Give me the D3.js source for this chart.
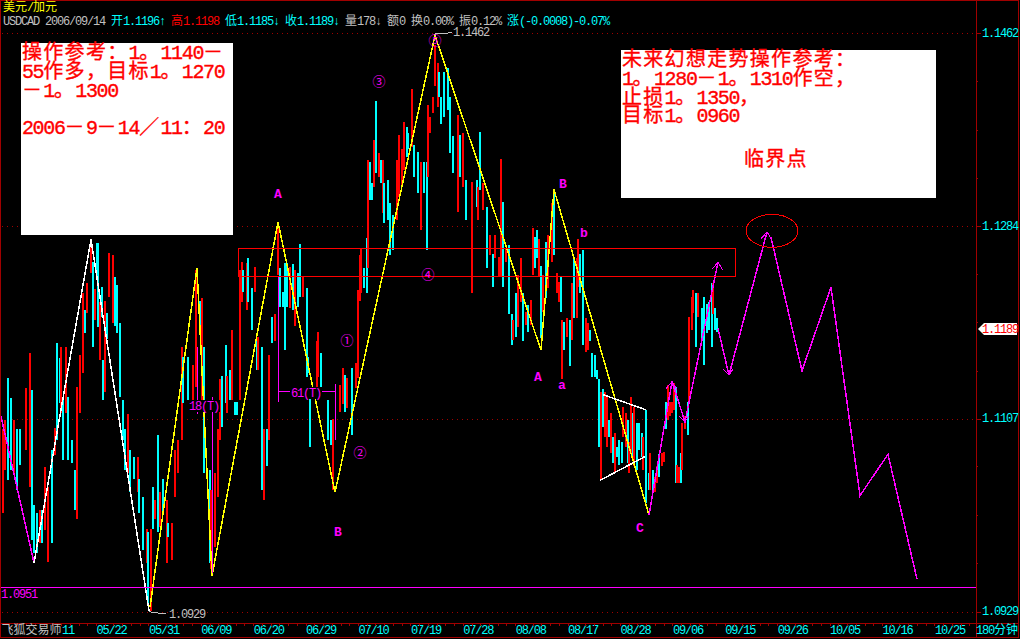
<!DOCTYPE html>
<html><head><meta charset="utf-8">
<style>html,body{margin:0;padding:0;background:#000;overflow:hidden}svg{display:block}
text{font-family:"Liberation Mono","Noto Sans CJK SC",monospace;white-space:pre}</style>
<script src="https://cdn.jsdelivr.net/npm/d3@7"></script></head><body><script>
// 180-minute bars of USD/CAD: position in the series, high, low, closed up (1) or down (0)
const barIndex=[3,5,8,11,14,17,20,26,30,32,
34,37,40,42,45,48,52,55,57,60,
61,63,66,68,72,75,77,80,83,85,
87,91,93,95,97,98,100,102,103,105,
107,109,113,115,117,120,123,125,128,130,
134,138,139,143,147,148,151,153,155,158,
160,163,167,168,172,175,178,182,183,188,
193,196,200,202,204,210,211,215,218,220,
222,226,227,230,232,235,237,240,242,243,
247,248,252,255,257,258,262,264,267,269,
272,275,278,280,283,285,287,290,293,295,
298,300,303,307,308,310,317,318,321,328,
331,333,340,343,345,347,352,356,358,360,
361,364,367,368,370,372,374,376,379,381,
383,384,388,390,393,397,399,402,404,407,
408,412,414,418,421,424,427,428,430,433,
435,438,439,441,444,448,450,453,458,460,
463,466,472,477,478,480,483,487,490,493,
495,499,501,503,506,509,512,513,516,518,
521,523,526,528,531,533,535,537,539,541,
543,546,548,552,554,557,559,561,562,564,
567,570,572,574,577,578,580,583,586,588,
590,592,595,597,599,601,603,605,607,609,
611,613,615,617,619,622,623,626,628,629,
631,633,634,637,639,642,643,646,649,650,
653,655,657,659,662,664,666,668,670,672,
674,676,677,679,681,682,685,688,689,692,
693,696,698,702,704,707,709,712,713,715,
717];
const highs=[1.1097,1.1106,1.1144,1.1126,1.1106,1.1097,1.1097,1.1135,1.1167,1.1133,
1.1027,1.1020,1.1023,1.1023,1.1062,1.1044,1.1078,1.1098,1.1177,1.1163,
1.1173,1.1127,1.1173,1.1127,1.1087,1.1060,1.1136,1.1166,1.1223,1.1207,
1.1232,1.1272,1.1251,1.1226,1.1269,1.1269,1.1214,1.1228,1.1161,1.1215,
1.1204,1.1260,1.1258,1.1237,1.1230,1.1195,1.1124,1.1097,1.1111,1.1078,
1.1072,1.1072,1.1051,1.1035,1.1005,1.1002,1.1005,1.1044,1.1032,1.1092,
1.1039,1.1051,1.1032,1.1011,1.1011,1.1078,1.1087,1.1173,1.1164,1.1164,
1.1156,1.1244,1.1215,1.1218,1.1173,1.1060,1.1041,1.1057,1.1097,1.1143,
1.1146,1.1175,1.1146,1.1152,1.1189,1.1122,1.1122,1.1244,1.1251,1.1244,
1.1250,1.1255,1.1227,1.1247,1.1182,1.1182,1.1173,1.1097,1.1097,1.1166,
1.1201,1.1203,1.1288,1.1246,1.1224,1.1250,1.1250,1.1247,1.1249,1.1244,
1.1241,1.1268,1.1238,1.1227,1.1164,1.1127,1.1178,1.1187,1.1167,1.1124,
1.1106,1.1107,1.1138,1.1154,1.1147,1.1144,1.1154,1.1158,1.1225,1.1258,
1.1264,1.1246,1.1273,1.1345,1.1343,1.1324,1.1364,1.1400,1.1352,1.1345,
1.1345,1.1324,1.1327,1.1306,1.1295,1.1345,1.1368,1.1355,1.1380,1.1376,
1.1370,1.1411,1.1359,1.1353,1.1343,1.1343,1.1343,1.1396,1.1385,1.1403,
1.1451,1.1435,1.1426,1.1403,1.1426,1.1430,1.1403,1.1367,1.1387,1.1368,
1.1370,1.1327,1.1325,1.1327,1.1320,1.1371,1.1324,1.1302,1.1276,1.1259,
1.1276,1.1256,1.1346,1.1307,1.1264,1.1267,1.1203,1.1198,1.1223,1.1239,
1.1255,1.1223,1.1205,1.1212,1.1216,1.1283,1.1274,1.1281,1.1272,1.1248,
1.1239,1.1270,1.1276,1.1306,1.1315,1.1241,1.1233,1.1238,1.1198,1.1196,
1.1200,1.1198,1.1232,1.1255,1.1255,1.1272,1.1259,1.1262,1.1200,1.1195,
1.1189,1.1167,1.1166,1.1152,1.1143,1.1131,1.1134,1.1131,1.1127,1.1106,
1.1112,1.1090,1.1094,1.1081,1.1087,1.1085,1.1118,1.1112,1.1106,1.1085,
1.1127,1.1112,1.1118,1.1103,1.1103,1.1094,1.1090,1.1115,1.1057,1.1075,
1.1060,1.1053,1.1063,1.1074,1.1075,1.1076,1.1122,1.1138,1.1122,1.1122,
1.1140,1.1136,1.1064,1.1062,1.1075,1.1103,1.1109,1.1122,1.1201,1.1219,
1.1225,1.1223,1.1223,1.1209,1.1219,1.1213,1.1214,1.1232,1.1232,1.1209,
1.1200];
const lows=[1.1020,1.1060,1.1050,1.1060,1.1057,1.1041,1.1064,1.1078,1.1044,1.0995,
1.0983,1.0983,1.0992,1.0992,1.1004,1.0975,1.0992,1.1073,1.1087,1.1121,
1.1112,1.1069,1.1112,1.1069,1.1066,1.1023,1.1014,1.1112,1.1149,1.1186,
1.1204,1.1241,1.1173,1.1198,1.1241,1.1191,1.1161,1.1201,1.1124,1.1131,
1.1180,1.1219,1.1195,1.1192,1.1186,1.1127,1.1087,1.1060,1.1057,1.1039,
1.1051,1.1039,1.1020,1.0986,1.0974,1.0937,1.0930,1.1005,1.1014,1.1002,
1.1007,1.1020,1.0974,1.0998,1.0977,1.1035,1.1057,1.1087,1.1121,1.1124,
1.1124,1.1136,1.1189,1.1115,1.1057,1.0974,1.0968,1.0989,1.1035,1.1087,
1.1099,1.1121,1.1112,1.1124,1.1124,1.1110,1.1110,1.1124,1.1214,1.1224,
1.1207,1.1214,1.1189,1.1224,1.1152,1.1152,1.1041,1.1032,1.1063,1.1087,
1.1177,1.1178,1.1239,1.1210,1.1210,1.1170,1.1210,1.1209,1.1207,1.1192,
1.1210,1.1219,1.1219,1.1145,1.1149,1.1081,1.1127,1.1145,1.1133,1.1087,
1.1083,1.1041,1.1113,1.1120,1.1113,1.1117,1.1092,1.1135,1.1144,1.1215,
1.1223,1.1227,1.1223,1.1246,1.1308,1.1308,1.1320,1.1333,1.1330,1.1324,
1.1296,1.1287,1.1290,1.1258,1.1262,1.1290,1.1311,1.1320,1.1336,1.1348,
1.1355,1.1357,1.1330,1.1315,1.1281,1.1315,1.1262,1.1330,1.1370,1.1389,
1.1413,1.1394,1.1403,1.1378,1.1385,1.1391,1.1352,1.1333,1.1297,1.1330,
1.1320,1.1290,1.1223,1.1302,1.1290,1.1318,1.1299,1.1246,1.1258,1.1228,
1.1255,1.1237,1.1237,1.1228,1.1251,1.1203,1.1175,1.1179,1.1182,1.1191,
1.1214,1.1178,1.1193,1.1187,1.1193,1.1239,1.1246,1.1255,1.1237,1.1181,
1.1205,1.1218,1.1227,1.1251,1.1258,1.1223,1.1214,1.1205,1.1143,1.1170,
1.1182,1.1155,1.1179,1.1200,1.1200,1.1228,1.1223,1.1175,1.1168,1.1170,
1.1178,1.1145,1.1145,1.1143,1.1081,1.1050,1.1099,1.1090,1.1081,1.1090,
1.1075,1.1066,1.1057,1.1072,1.1064,1.1066,1.1090,1.1081,1.1066,1.1057,
1.1075,1.1069,1.1063,1.1060,1.1078,1.1072,1.1060,1.1029,1.1041,1.1041,
1.1041,1.1039,1.1048,1.1053,1.1063,1.1067,1.1097,1.1106,1.1109,1.1112,
1.1115,1.1048,1.1048,1.1048,1.1048,1.1060,1.1097,1.1092,1.1122,1.1189,
1.1204,1.1173,1.1201,1.1179,1.1156,1.1186,1.1189,1.1173,1.1203,1.1189,
1.1187];
const closedUp=[1,1,0,0,1,0,0,1,1,0,
0,0,1,0,1,1,0,1,0,0,
1,0,1,0,0,0,1,1,1,0,
1,1,0,1,0,0,1,0,0,1,
0,1,1,0,0,0,0,0,1,0,
0,1,0,0,1,0,1,0,1,0,
1,0,1,0,1,1,1,1,0,0,
1,1,0,1,0,0,1,1,1,1,
0,0,1,0,1,0,0,1,1,0,
1,0,0,1,0,1,0,1,0,1,
0,1,1,0,0,0,0,1,0,1,
0,0,1,0,0,0,1,1,0,0,
0,1,1,1,0,1,0,1,1,1,
1,0,0,1,0,0,1,0,1,0,
1,0,0,0,0,1,1,1,1,0,
0,1,0,0,1,0,0,1,1,1,
1,1,0,0,0,0,0,0,1,0,
1,0,1,0,1,0,1,0,1,0,
1,1,1,0,1,0,0,1,0,1,
1,0,1,0,1,1,0,0,1,0,
1,0,1,1,0,1,1,0,1,0,
1,0,1,0,1,1,0,0,1,1,
0,0,0,0,0,1,0,1,1,0,
1,0,1,0,0,0,1,1,0,1,
1,0,1,0,0,0,1,0,0,1,
0,1,1,0,1,1,0,1,1,1,
1,0,1,1,0,1,1,0,1,1,
1,0,1,0,0,0,0,0,1,0,
0];
// hand-drawn wave overlays: [bar position, price]
const magentaLead=[[1,1.1109],[34,1.0974]];
const whiteWave=[[34,1.0974],[91,1.1272],[149,1.0930]];
const yellowWave=[[150,1.0933],[197,1.1246],[212,1.0962],[278,1.1288],[335,1.1039],[435,1.1460],[541,1.1170],[554,1.1318],[649,1.1018]];
const forecastA=[[649,1.1018],[672,1.1141],[685,1.1104],[718,1.1251]];
const forecastB=[[718,1.1190],[729,1.1147],[767,1.1279]];
const forecastC=[[771,1.1274],[802,1.1151],[831,1.1228],[860,1.1036],[888,1.1074],[917,1.0959]];
const flagTop=[[603,1.1129],[646,1.1115]];
const flagBottom=[[600,1.1050],[645,1.1072]];
const fibSpans=[[197,1.1173,1.1111],[212,1.1127,1.0965],[278,1.1237,1.1122],[335,1.1139,1.1087]];
const fibBars=[[197,212,1.1119],[278,335,1.1132]];
const arrowTips=[[718,1.1251],[767,1.1279],[672,1.1141]];
const arrowLows=[[729,1.1147],[685,1.1104]];
const zoneBars=[238,735], zonePrices=[1.1264,1.1238];
const targetCenter=[772,1.1280];
// axes
const priceTicks=[1.1462,1.1284,1.1107,1.0929];
const priceMinor=[1.1418,1.1373,1.1329,1.1240,1.1196,1.1151,1.1063,1.1018,1.0974];
const supportPrice=1.0951;
const dateLabels=["11","05/22","05/31","06/09","06/20","06/29","07/10","07/19","07/28","08/08","08/17","08/28","09/06","09/15","09/26","10/05","10/16","10/25"];
const dateBars=[61.6,96,148.4,200.8,253.2,305.6,358,410.4,462.8,515.2,567.6,620,672.4,724.8,777.2,829.6,882,934.4];
const minorBars=d3.range(8.7,976,8.733);

const RED="#ff0000",CYAN="#00ffff",MAG="#ff00ff",YEL="#ffff00",GRAY="#c0c0c0",FRAME="#a00000";
const W=1020,H=639;
const x=d3.scaleLinear().domain([0,976]).range([0,976]);
const y=d3.scaleLinear().domain([1.0929,1.1462]).range([611.7,33.3]);
const svg=d3.select("body").append("svg").attr("width",W).attr("height",H).style("background","#000");

// grid text: half/full-width cells like a bitmap terminal font
function cells(s,x0,cell){let out=[],p=x0;for(const c of s){out.push(+p.toFixed(1));p+=(c.charCodeAt(0)>0x2000?2:1)*cell;}return{xs:out,end:p};}
function put(g,s,x0,yy,color,size,cell){const r=cells(s,x0,cell);
  g.append("text").attr("x",r.xs.join(" ")).attr("y",yy).attr("fill",color).attr("font-size",size).text(s);return r.end;}
// several lines in one text element, thickened a little like the bitmap original
function putLines(g,rows,x0,color,size,cell){const t=g.append("text").attr("fill",color).attr("font-size",size)
  .attr("stroke",color).attr("stroke-width",.35);
  rows.forEach(d=>t.append("tspan").attr("x",cells(d[0],x0,cell).xs.join(" ")).attr("y",d[1]).text(d[0]));}

const crisp=g=>g.attr("shape-rendering","crispEdges");
const gridG=svg.append("g").call(crisp);
gridG.selectAll("line").data(priceTicks).join("line").attr("x1",2).attr("x2",976)
 .attr("y1",d=>Math.round(y(d))+.5).attr("y2",d=>Math.round(y(d))+.5)
 .attr("stroke",FRAME).attr("stroke-dasharray","1 4");

// bars
svg.append("g").call(crisp).selectAll("line").data(barIndex).join("line")
 .attr("x1",d=>x(d)).attr("x2",d=>x(d))
 .attr("y1",(d,i)=>y(highs[i])).attr("y2",(d,i)=>y(lows[i]))
 .attr("stroke",(d,i)=>closedUp[i]?RED:CYAN).attr("stroke-width",2);

const line=d3.line().x(d=>x(d[0])).y(d=>y(d[1]));
const ov=svg.append("g").call(crisp).attr("fill","none");
const path=(data,color)=>ov.append("path").attr("d",line(data)).attr("stroke",color).attr("stroke-width",1.5);
path(magentaLead,MAG);path(whiteWave,"#fff");path(yellowWave,YEL);
path(flagTop,"#fff");path(flagBottom,"#fff");
[forecastA,forecastB,forecastC].forEach(d=>path(d,MAG));
arrowTips.forEach(d=>{const px=x(d[0]),py=y(d[1]);ov.append("path").attr("stroke",MAG).attr("d",`M${px-6},${py+7}L${px},${py}L${px+5},${py+8}`);});
arrowLows.forEach(d=>{const px=x(d[0]),py=y(d[1]);ov.append("path").attr("stroke",MAG).attr("d",`M${px-6},${py-6}L${px},${py}L${px+4},${py-6}`);});
fibSpans.forEach(d=>ov.append("line").attr("x1",x(d[0])).attr("x2",x(d[0])).attr("y1",y(d[1])).attr("y2",y(d[2])).attr("stroke",MAG));
fibBars.forEach(d=>ov.append("line").attr("x1",x(d[0])).attr("x2",x(d[1])).attr("y1",y(d[2])).attr("y2",y(d[2])).attr("stroke",MAG));
// zone and target
ov.append("rect").attr("x",x(zoneBars[0])).attr("width",x(zoneBars[1])-x(zoneBars[0]))
 .attr("y",y(zonePrices[0])).attr("height",y(zonePrices[1])-y(zonePrices[0])).attr("stroke",RED);
ov.append("ellipse").attr("cx",x(targetCenter[0])).attr("cy",y(targetCenter[1])).attr("rx",26).attr("ry",16.5).attr("stroke",RED);
// support
ov.append("line").attr("x1",1).attr("x2",976).attr("y1",y(supportPrice)).attr("y2",y(supportPrice)).attr("stroke",MAG);
// extreme connectors
const hx=x(435),hy=y(1.1462),lx=x(149),ly=y(1.0929);
ov.append("path").attr("stroke",GRAY).attr("d",`M${hx},${hy+3}L${hx+1},${hy}L${hx+11},${hy}L${hx+17},${hy-1}`);
ov.append("path").attr("stroke",GRAY).attr("d",`M${lx},${ly}L${lx+6},${ly+1}L${lx+17},${ly+2}`);

// white note boxes
const notes=svg.append("g");
notes.append("rect").attr("x",21).attr("y",43).attr("width",212).attr("height",192).attr("fill","#fff");
notes.append("rect").attr("x",621).attr("y",50).attr("width",315).attr("height",148).attr("fill","#fff");
const noteCell=10.65;
putLines(notes,[["操作参考：1。1140－",59],["55作多，目标1。1270",78],["－1。1300",96.5],["2006－9－14／11：20",134]],22,RED,20,noteCell);
putLines(notes,[["未来幻想走势操作参考：",66],["1。1280－1。1310作空，",85],["止损1。1350，",103.5],["目标1。0960",122]],622,RED,20,noteCell);
putLines(notes,[["临界点",166]],744,RED,20,noteCell);

// wave labels
const lab=svg.append("g").attr("fill",MAG).attr("text-anchor","middle");
[["A",278,198],["B",338,536],["B",563,188],["b",584,237],["A",538,381],["a",562,389],["C",640,532]]
 .forEach(d=>lab.append("text").attr("x",d[1]).attr("y",d[2]).attr("font-size",13).attr("font-weight","bold").text(d[0]));
[["③",379,86],["⑤",435,45],["④",428,279],["①",347,345],["②",360,457]]
 .forEach(d=>lab.append("text").attr("x",d[1]).attr("y",d[2]).attr("font-size",13).text(d[0]));
const fibG=svg.append("g");
[[189,410,"18(T)"],[291,397,"61(T)"]].forEach(d=>{
 fibG.append("rect").attr("x",d[0]-1).attr("y",d[1]-10).attr("width",32).attr("height",12).attr("fill","#000");
 put(fibG,d[2],d[0],d[1],MAG,12,6);});

// value notes on the chart
const notesV=svg.append("g");
put(notesV,"1.1462",453,36,GRAY,12,6);
put(notesV,"1.0929",169,618,GRAY,12,6);
put(notesV,"1.0951",1,598,MAG,12,6);

// frame
const fr=svg.append("g").call(crisp).attr("stroke",FRAME).attr("fill","none");
fr.append("rect").attr("x",.5).attr("y",.5).attr("width",1017.5).attr("height",637);
[[976.5,0,976.5,637],[0,623.5,1018,623.5]].forEach(d=>fr.append("line").attr("x1",d[0]).attr("y1",d[1]).attr("x2",d[2]).attr("y2",d[3]));

// time axis
const axX=svg.append("g").attr("transform","translate(0,623)").call(crisp)
 .call(d3.axisBottom(x).tickValues(dateBars).tickFormat((d,i)=>dateLabels[i]).tickSize(0).tickPadding(0));
axX.select(".domain").remove();
axX.selectAll("text").attr("text-anchor","start").attr("dy",null).attr("y",11).attr("fill",CYAN)
 .attr("font-size",12).attr("font-family",null)
 .attr("x",function(d){const s=this.textContent;return cells(s,0,6).xs.join(" ");});
const axXm=svg.append("g").attr("transform","translate(0,623)").call(crisp)
 .call(d3.axisBottom(x).tickValues(minorBars).tickFormat("").tickSize(3));
axXm.select(".domain").remove();axXm.selectAll("line").attr("stroke",FRAME);
// product label
const brand=svg.append("g");
put(brand,"飞狐交易师",1.5,634,GRAY,12,6);

// price axis
const axY=svg.append("g").attr("transform","translate(976,0)").call(crisp)
 .call(d3.axisRight(y).tickValues(priceTicks).tickFormat(d3.format(".4f")).tickSize(5).tickPadding(0));
axY.select(".domain").remove();axY.selectAll("line").attr("stroke",FRAME);
axY.selectAll("text").attr("fill",CYAN).attr("font-size",12).attr("dy",null).attr("font-family",null)
 .attr("y",3).attr("x",function(){return cells(this.textContent,6,6).xs.join(" ");});
const axYm=svg.append("g").attr("transform","translate(976,0)").call(crisp)
 .call(d3.axisRight(y).tickValues(priceMinor).tickFormat("").tickSize(2));
axYm.select(".domain").remove();axYm.selectAll("line").attr("stroke",FRAME);
// current price tag
const tag=svg.append("g");
tag.append("path").attr("fill","#fff").attr("d","M978,329L984,323L1017,323L1017,335L984,335Z");
put(tag,"1.1189",982,333,RED,12,6);
put(svg.append("g"),"180分钟",976,634,CYAN,12,6);

// header
const hd=svg.append("g");
put(hd,"美元/加元",3,11,YEL,12,6);
let cx=3;
const hdText=hd.append("text").attr("y",25).attr("font-size",12);
[["USDCAD 2006/09/14 ",GRAY],["开1.1196↑",CYAN],["高1.1198 ",RED],["低1.1185↓收1.1189↓",CYAN],["量178↓额0 换0.00% 振0.12% ",GRAY],["涨(-0.0008)-0.07%",CYAN]]
 .forEach(d=>{const r=cells(d[0],cx,6);hdText.append("tspan").attr("x",r.xs.join(" ")).attr("fill",d[1]).text(d[0]);cx=r.end;});
</script></body></html>
